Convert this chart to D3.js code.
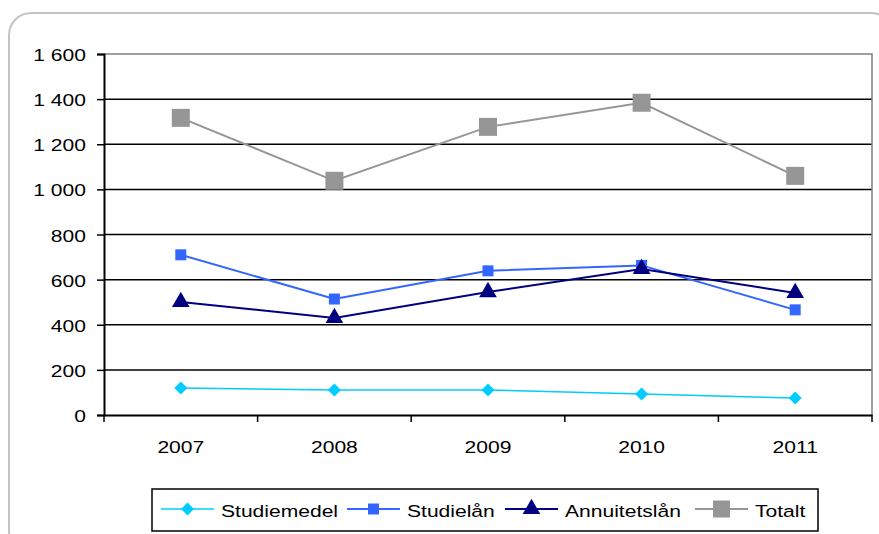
<!DOCTYPE html>
<html>
<head>
<meta charset="utf-8">
<script src="https://cdn.jsdelivr.net/npm/d3@7"></script>
<style>
  body { margin: 0; background: #fff; }
  svg text { font-family: 'Liberation Sans', Arial, sans-serif; fill: #000; }
</style>
</head>
<body>
<svg width="879" height="534"></svg>
<script>
const years = ['2007', '2008', '2009', '2010', '2011'];
const yTicks = [0, 200, 400, 600, 800, 1000, 1200, 1400, 1600];

const studiemedel = [120, 111, 111, 93, 75];
const studielan = [710, 514, 639, 663, 466];
const annuitetslan = [501, 430, 545, 647, 541];
const totalt = [1317, 1038, 1277, 1384, 1060];

// rotated square for the diamond marker
const diamond = {
  draw(ctx, size) {
    const r = Math.sqrt(size / 2);
    ctx.moveTo(0, -r);
    ctx.lineTo(r, 0);
    ctx.lineTo(0, r);
    ctx.lineTo(-r, 0);
    ctx.closePath();
  }
};

const series = [
  { name: 'Studiemedel', values: studiemedel, color: '#00ccff', symbol: diamond, size: 85, width: 1.5 },
  { name: 'Studielån', values: studielan, color: '#3366ff', symbol: d3.symbolSquare, size: 121, width: 2 },
  { name: 'Annuitetslån', values: annuitetslan, color: '#000080', symbol: d3.symbolTriangle, size: 135, width: 2 },
  { name: 'Totalt', values: totalt, color: '#969696', symbol: d3.symbolSquare, size: 324, width: 2 }
];

const FONT = 17;
const STRETCH = 1.24;

const svg = d3.select('svg');

// text in the original is stretched sideways
const stretchText = (sel, px, py, anchor) => {
  sel.attr('x', 0).attr('y', 0).attr('dy', null)
    .attr('text-anchor', anchor)
    .attr('transform', (d, i) => `translate(${px(d, i)},${py(d, i)}) scale(${STRETCH},1)`)
    .style('font-size', `${FONT}px`);
};

// outer frame
svg.append('rect')
  .attr('x', 9).attr('y', 13)
  .attr('width', 884).attr('height', 540)
  .attr('rx', 22)
  .attr('fill', 'none')
  .attr('stroke', '#c4c4c4')
  .attr('stroke-width', 2);

const plot = { left: 104, right: 872, top: 54, bottom: 415 };

const x = d3.scaleBand().domain(years).range([plot.left, plot.right]);
const y = d3.scaleLinear().domain([0, 1600]).range([plot.bottom, plot.top]);

// grid
svg.append('g')
  .selectAll('line')
  .data(yTicks.filter(d => d > 0 && d < 1600))
  .join('line')
  .attr('x1', plot.left).attr('x2', plot.right)
  .attr('y1', d => y(d)).attr('y2', d => y(d))
  .attr('stroke', '#000')
  .attr('stroke-width', 1.5);

// plot border top/right
svg.append('path')
  .attr('d', `M${plot.left},${plot.top}H${plot.right}V${plot.bottom}`)
  .attr('fill', 'none')
  .attr('stroke', '#808080')
  .attr('stroke-width', 1.5);

// y axis
const yAxis = svg.append('g')
  .attr('transform', `translate(${plot.left},0)`)
  .call(d3.axisLeft(y).tickValues(yTicks).tickSize(7)
    .tickFormat(d => d3.format(',')(d).replace(',', ' ')));
yAxis.select('.domain').attr('stroke', '#000').attr('stroke-width', 2);
yAxis.selectAll('.tick line').attr('stroke', '#000').attr('stroke-width', 1.5);
yAxis.selectAll('.tick text').call(stretchText, () => -18, () => 6.5, 'end');

// x axis
const xAxis = svg.append('g')
  .attr('transform', `translate(0,${plot.bottom})`)
  .call(d3.axisBottom(x).tickSize(0));
xAxis.select('.domain').attr('stroke', '#000').attr('stroke-width', 2);
xAxis.selectAll('.tick text').call(stretchText, () => 0, () => 38, 'middle');

const bounds = years.map(d => x(d)).concat([plot.right]);
xAxis.selectAll('.bound')
  .data(bounds)
  .join('line')
  .attr('class', 'bound')
  .attr('x1', d => d).attr('x2', d => d)
  .attr('y1', 0).attr('y2', 7)
  .attr('stroke', '#000')
  .attr('stroke-width', 1.5);

const cx = d => x(d) + x.bandwidth() / 2;

const line = d3.line()
  .x((d, i) => cx(years[i]))
  .y(d => y(d));

series.forEach(s => {
  svg.append('path')
    .attr('d', line(s.values))
    .attr('fill', 'none')
    .attr('stroke', s.color)
    .attr('stroke-width', s.width);

  svg.append('g')
    .selectAll('path')
    .data(s.values)
    .join('path')
    .attr('transform', (d, i) => `translate(${cx(years[i])},${y(d)})`)
    .attr('d', d3.symbol().type(s.symbol).size(s.size))
    .attr('fill', s.color);
});

// legend
const legend = svg.append('g');
legend.append('rect')
  .attr('x', 152).attr('y', 489)
  .attr('width', 666).attr('height', 42)
  .attr('fill', '#fff')
  .attr('stroke', '#000')
  .attr('stroke-width', 1.5);

const legendX = [161, 347, 505, 695];
series.forEach((s, i) => {
  const g = legend.append('g').attr('transform', `translate(${legendX[i]},509)`);
  g.append('line')
    .attr('x1', 0).attr('x2', 53)
    .attr('stroke', s.color)
    .attr('stroke-width', s.width);
  g.append('path')
    .attr('transform', 'translate(26.5,0)')
    .attr('d', d3.symbol().type(s.symbol).size(i === 3 ? 290 : s.size))
    .attr('fill', s.color);
  g.append('text')
    .datum(s.name)
    .text(s.name)
    .call(stretchText, () => 60, () => 8, 'start');
});
</script>
</body>
</html>
